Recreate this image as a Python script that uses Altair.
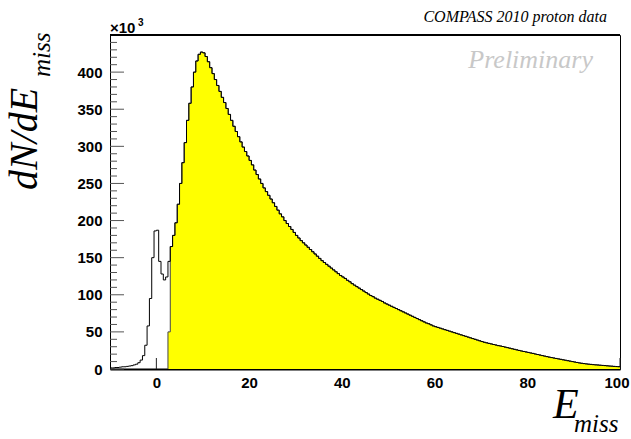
import altair as alt
import pandas as pd

# Missing-energy histogram, counts in units of 10^3, bins of 0.5 from -10 to 100
x_lo, x_hi, bin_w = -10.0, 100.0, 0.5
counts_k = [
    1.5, 1.5, 2, 2, 2.5, 3, 3, 3.5, 4, 4.5,
    5.5, 6.5, 8.5, 12, 18, 32, 58, 95, 150, 186,
    187, 145, 128, 120, 124, 145, 165, 180, 197, 222,
    250, 278, 305, 335, 358, 380, 400, 415, 424, 427,
    426, 421, 414, 406, 398, 390, 382, 374, 366, 359,
    351, 343, 335, 327, 320, 313, 306, 299, 293, 287,
    281, 275, 268, 262, 256, 250, 244, 239, 234, 229,
    224, 219, 214, 209, 205, 200, 196, 192, 188, 184,
    180, 176.5, 173, 170, 167, 164, 161, 158, 155, 152,
    149, 146, 143.5, 141, 138.5, 136, 133.5, 131, 128.5, 126,
    124, 122, 119.5, 117.5, 115, 113, 111, 109, 107, 105,
    103, 101, 99, 97.5, 95.5, 94, 92.5, 91, 89, 87.5,
    86, 84.5, 83, 81.5, 80, 78.5, 77, 75.5, 74, 72.5,
    71, 69.5, 68, 66.5, 65, 63.5, 62, 61, 59.5, 58,
    57, 56, 55, 54, 53, 52, 51, 50, 49, 48,
    47, 46, 45, 44, 43, 42, 41, 40, 39, 38,
    37, 36, 35.3, 34.5, 33.8, 33, 32.3, 31.5, 31, 30.3,
    29.5, 28.8, 28, 27.3, 26.5, 25.8, 25, 24.3, 23.6, 23,
    22.3, 21.6, 21, 20.2, 19.5, 18.8, 18.1, 17.4, 16.7, 16,
    15.4, 14.8, 14.2, 13.6, 13, 12.4, 11.8, 11.2, 10.6, 10,
    9.4, 8.8, 8.2, 7.7, 7.3, 6.9, 6.5, 6.2, 5.9, 5.6,
    5.4, 5.1, 4.8, 4.6, 4.3, 4.0, 3.8, 3.5, 3.3, 3.1,
]
# Selected events (yellow): start at the cut, first bin only partly filled
cut_edge = 2.5
cut_first_bin_k = 50

y_major = [0, 50, 100, 150, 200, 250, 300, 350, 400]
y_minor = [v for v in range(0, 451, 10) if v % 50]
x_major = [0, 20, 40, 60, 80, 100]

edges = [x_lo + bin_w * i for i in range(len(counts_k))]

full = pd.DataFrame({"x": edges + [x_hi], "n": counts_k + [counts_k[-1]]})
full["i"] = range(len(full))

i_cut = int(round((cut_edge - x_lo) / bin_w))
sel = pd.DataFrame({
    "x": edges[i_cut:] + [x_hi],
    "n": [cut_first_bin_k] + counts_k[i_cut + 1:] + [counts_k[-1]],
})
sel_outline = pd.DataFrame({"x": [cut_edge] + list(sel["x"]), "n": [0] + list(sel["n"])})
sel_outline["i"] = range(len(sel_outline))

W, H = 510, 334
xs = alt.Scale(domain=[x_lo, x_hi], nice=False, zero=False)
ys = alt.Scale(domain=[0, 450], nice=False, zero=True)

label_font = "Liberation Sans"
serif = "Liberation Serif"

x_axis = alt.Axis(
    values=x_major, title=None, ticks=False, tickSize=0, labelPadding=6,
    labelFont=label_font, labelFontWeight="bold", labelFontSize=15, labelColor="black",
    domain=True, domainColor="black", domainWidth=2, grid=False,
    labelFlush=True, labelFlushOffset=9)
y_axis = alt.Axis(
    values=y_major, title=None, ticks=False, tickSize=0, labelPadding=8,
    labelFont=label_font, labelFontWeight="bold", labelFontSize=15, labelColor="black",
    domain=False, grid=False)


def X(field):
    return alt.X(field, scale=xs, axis=x_axis)


def Y(field):
    return alt.Y(field, scale=ys, axis=y_axis)


# inner tick marks, ROOT style
ymaj = alt.Chart(pd.DataFrame({"v": y_major + [450]})).mark_rule(color="#555", strokeWidth=1).encode(
    y=Y("v:Q"), x=alt.value(0), x2=alt.value(14))
ymin = alt.Chart(pd.DataFrame({"v": y_minor})).mark_rule(color="#555", strokeWidth=1).encode(
    y=Y("v:Q"), x=alt.value(0), x2=alt.value(7))
xmaj = alt.Chart(pd.DataFrame({"v": x_major})).mark_rule(color="#222", strokeWidth=1).encode(
    x=X("v:Q"), y=alt.value(H), y2=alt.value(H - 11))

area = alt.Chart(sel).mark_area(interpolate="step-after", color="#ffff00", opacity=1, clip=True).encode(
    x=X("x:Q"), y=Y("n:Q"))
area_line = alt.Chart(sel_outline).mark_line(interpolate="step-after", color="#444", strokeWidth=1, clip=True).encode(
    x=X("x:Q"), y=Y("n:Q"), order="i:Q")
hist = alt.Chart(full).mark_line(interpolate="step-after", color="black", strokeWidth=1, clip=True).encode(
    x=X("x:Q"), y=Y("n:Q"), order="i:Q")

top_line = alt.Chart(pd.DataFrame({"a": [0]})).mark_rule(color="black", strokeWidth=2).encode(
    x=alt.value(0), x2=alt.value(W), y=alt.value(0))


def label(text, x, y, size, font=serif, style="italic", weight="normal", color="black", align="left", angle=0):
    return alt.Chart(pd.DataFrame({"t": [text]})).mark_text(
        font=font, fontStyle=style, fontWeight=weight, fontSize=size, color=color,
        align=align, baseline="alphabetic", angle=angle,
    ).encode(text="t:N", x=alt.value(x), y=alt.value(y))


texts = [
    label("COMPASS 2010 proton data", 497, -13, 16, align="right"),
    label("Preliminary", 483, 33, 26, color="#c8c8c8", align="right"),
    label("\u00d710", 0, -2, 15, font=label_font, style="normal", weight="bold"),
    label("3", 28, -9, 10, font=label_font, style="normal", weight="bold"),
    label("dN/dE", -73, 155, 40, angle=270),
    label("miss", -60, 42, 25, angle=270),
    label("E", 443, 383, 42),
    label("miss", 464, 397, 25),
]

chart = alt.layer(ymin, ymaj, xmaj, area, area_line, hist, top_line, *texts).properties(
    width=W, height=H,
    padding={"left": 110, "top": 35, "right": 11, "bottom": 70},
    autosize=alt.AutoSizeParams(type="none"),
    background="white",
).configure_view(stroke="black", strokeWidth=1)

chart.save("out.html", embed_options={"renderer": "svg", "actions": False})
